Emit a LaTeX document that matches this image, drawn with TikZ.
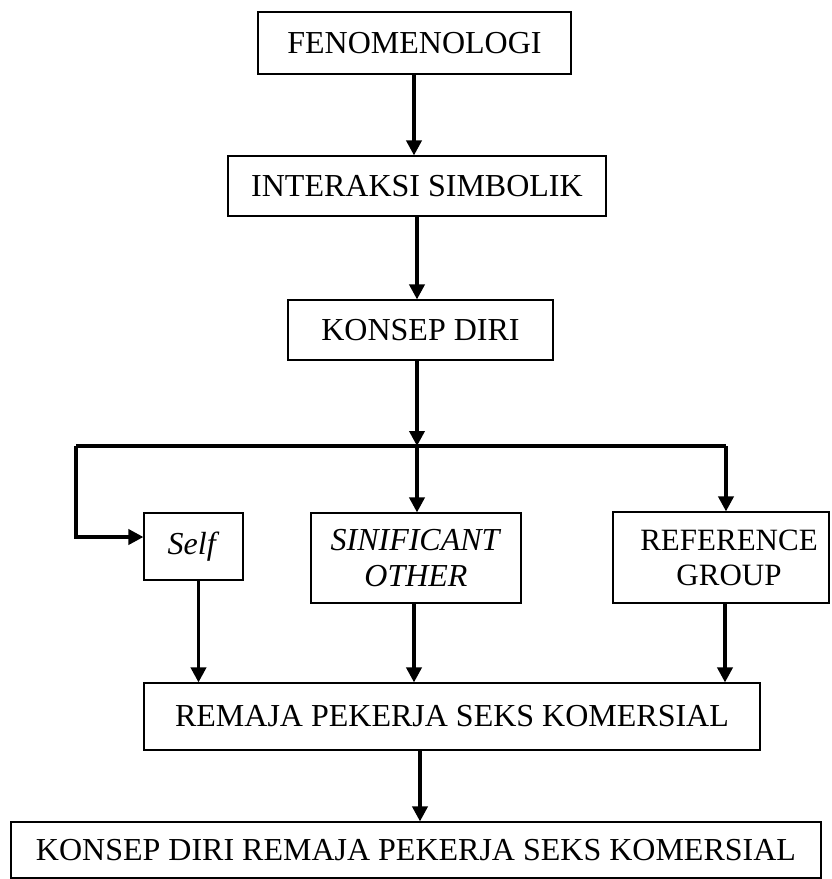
\documentclass[tikz,border=0pt]{standalone}
\usepackage{fontspec}
\setmainfont{Liberation Serif}
\usetikzlibrary{arrows.meta}
\begin{document}
\begin{tikzpicture}[x=1pt,y=-1pt,
  box/.style={draw, line width=1.1pt, inner sep=0pt, align=center,
    font=\fontsize{32}{36}\selectfont},
  arr/.style={line width=3.6pt, -{Triangle[length=15pt,width=15pt]}},
  ln/.style={line width=3.6pt, line join=miter}]
\useasboundingbox (0,0) rectangle (831,879);
\node[box, minimum width=313pt, minimum height=62pt] (fen) at (414.5,43) {FENOMENOLOGI};
\node[box, minimum width=378pt, minimum height=60pt] (inter) at (417,186) {INTERAKSI SIMBOLIK};
\node[box, minimum width=265pt, minimum height=60pt] (kd) at (420.5,330) {KONSEP DIRI};
\node[box, minimum width=99pt, minimum height=67pt] (self) at (193.5,546.5) {\textit{Self}};
\node[box, minimum width=210pt, minimum height=90pt] (sig) at (416,558) {\textit{SINIFICANT}\\\textit{OTHER}};
\node[box, minimum width=216pt, minimum height=91pt, font=\fontsize{31}{35}\selectfont] (ref) at (721,557.5) {\hspace*{16pt}REFERENCE\\\hspace*{16pt}GROUP};
\node[box, minimum width=616pt, minimum height=67pt] (rem) at (452,716.5) {REMAJA PEKERJA SEKS KOMERSIAL};
\node[box, minimum width=810pt, minimum height=56pt] (bot) at (416,850) {KONSEP DIRI REMAJA PEKERJA SEKS KOMERSIAL};

\coordinate (j) at (417,446);
\coordinate (L) at (76,446);
\coordinate (R) at (726,446);
\coordinate (sa) at (76,537);
\coordinate (s1) at (198.5,580);
\coordinate (s2) at (414,603);
\coordinate (s3) at (725,603);
\coordinate (s4) at (420,750);

\draw[arr] (fen.south -| 414,0) -- (414,0 |- inter.north);
\draw[arr] (inter.south -| 417,0) -- (417,0 |- kd.north);
\draw[arr] (kd.south -| j) -- (j);
\draw[ln] (L) -- (R);
\draw[arr] (R) -- (R |- ref.north);
\draw[arr] (L) -- (sa) -- (sa -| self.west);
\draw[arr] (j) -- (j |- sig.north);
\draw[arr] (s1) -- (s1 |- rem.north);
\draw[arr] (s2) -- (s2 |- rem.north);
\draw[arr] (s3) -- (s3 |- rem.north);
\draw[arr] (s4) -- (s4 |- bot.north);
\end{tikzpicture}
\end{document}
